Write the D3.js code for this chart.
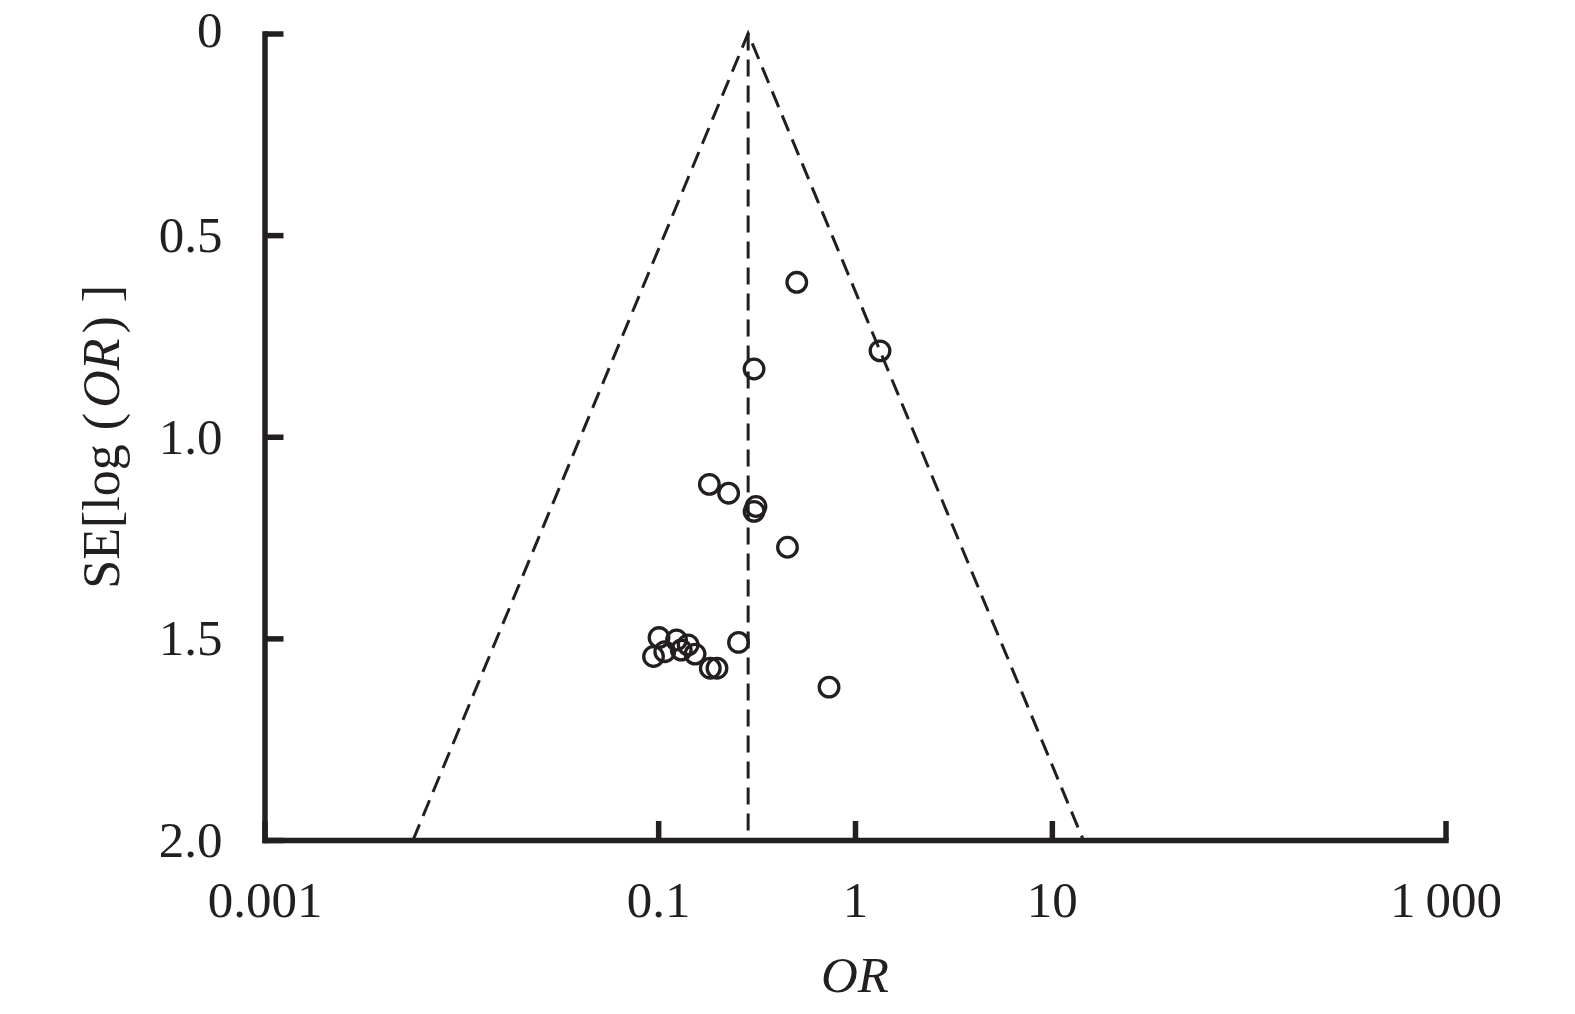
<!DOCTYPE html>
<html>
<head>
<meta charset="utf-8">
<script src="https://cdn.jsdelivr.net/npm/d3@7"></script>
<style>
  html, body { margin: 0; padding: 0; background: #fff; }
  svg { display: block; }
  text { font-family: "Liberation Serif", "DejaVu Serif", serif; fill: #231f20; }
</style>
</head>
<body>
<svg id="chart" width="1575" height="1014"></svg>
<script>
// ---- data ----
const orValues = [0.506, 1.34, 0.307, 0.182, 0.228, 0.314, 0.307, 0.454, 0.256, 0.738,
                  0.101, 0.0947, 0.108, 0.124, 0.131, 0.142, 0.154, 0.184, 0.199];
const seValues = [0.617, 0.787, 0.832, 1.118, 1.140, 1.173, 1.185, 1.274, 1.510, 1.621,
                  1.498, 1.545, 1.533, 1.504, 1.529, 1.516, 1.539, 1.574, 1.574];
const pooledOR = 0.2865;
const seMax = 2.0;
const xTickValues = [0.001, 0.1, 1, 10, 1000];
const xTickLabels = ["0.001", "0.1", "1", "10", "1\u2009000"];
const yTickValues = [0, 0.5, 1.0, 1.5, 2.0];
const yTickLabels = ["0", "0.5", "1.0", "1.5", "2.0"];

// ---- layout ----
const ink = "#231f20";
const svg = d3.select("#chart");
const x = d3.scaleLog().domain([0.001, 1000]).range([264.5, 1445.5]);
const y = d3.scaleLinear().domain([0, 2]).range([33.5, 840]);

// funnel
const lnP = Math.log(pooledOR);
const lo = Math.exp(lnP - 1.96 * seMax), hi = Math.exp(lnP + 1.96 * seMax);
const funnel = [[lo, seMax], [pooledOR, 0], [hi, seMax]];
svg.append("path")
  .attr("d", d3.line().x(d => x(d[0])).y(d => y(d[1]))(funnel))
  .attr("fill", "none").attr("stroke", ink).attr("stroke-width", 3)
  .attr("stroke-dasharray", "17,9");
svg.append("line")
  .attr("x1", x(pooledOR)).attr("x2", x(pooledOR))
  .attr("y1", y(0)).attr("y2", y(seMax))
  .attr("stroke", ink).attr("stroke-width", 3)
  .attr("stroke-dasharray", "17,9");

// points
svg.append("g").selectAll("circle")
  .data(orValues.map((v, i) => [v, seValues[i]]))
  .join("circle")
  .attr("cx", d => x(d[0])).attr("cy", d => y(d[1]))
  .attr("r", 9.8).attr("fill", "none").attr("stroke", ink).attr("stroke-width", 3.3);

// axes
const xAxis = d3.axisBottom(x).tickValues(xTickValues)
  .tickFormat((d, i) => xTickLabels[i]).tickSize(-19).tickSizeOuter(0).tickPadding(41);
const gx = svg.append("g").attr("transform", `translate(0,${y(2)})`).call(xAxis);
const yAxis = d3.axisLeft(y).tickValues(yTickValues)
  .tickFormat((d, i) => yTickLabels[i]).tickSize(-19).tickSizeOuter(0).tickPadding(42);
const gy = svg.append("g").attr("transform", `translate(${x(0.001)},0)`).call(yAxis);

[gx, gy].forEach(g => {
  g.select(".domain").attr("stroke", ink).attr("stroke-width", 5.5).attr("stroke-linecap", "square");
  g.selectAll(".tick line").attr("stroke", ink).attr("stroke-width", 5.5);
  g.selectAll(".tick text").attr("fill", ink)
    .style("font-family", '"Liberation Serif", "DejaVu Serif", serif').style("font-size", "51px");
});
// the top "0" label sits a little higher in the original
gy.selectAll(".tick text").filter(d => d === 0).attr("y", -3);

// axis titles
svg.append("text")
  .attr("x", (x.range()[0] + x.range()[1]) / 2).attr("y", 992)
  .attr("text-anchor", "middle").style("font-size", "51px").style("font-style", "italic")
  .text("OR");

const yl = svg.append("text")
  .attr("transform", `translate(119,${(y.range()[0] + y.range()[1]) / 2}) rotate(-90)`)
  .attr("text-anchor", "middle").style("font-size", "52px");
yl.append("tspan").text("SE[log");
yl.append("tspan").attr("dx", 14).text("(");
yl.append("tspan").attr("dx", 5).style("font-style", "italic").text("OR");
yl.append("tspan").attr("dx", 5).text(")");
yl.append("tspan").attr("dx", 14).text("]");
</script>
</body>
</html>
